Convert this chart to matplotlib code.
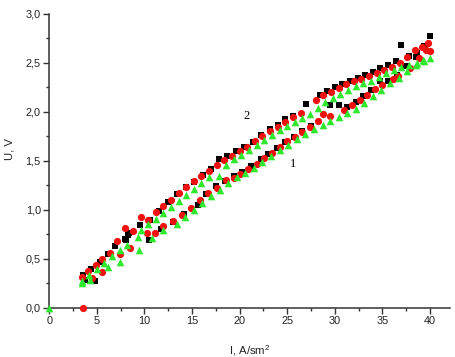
import numpy as np
import matplotlib
matplotlib.use("Agg")
import matplotlib.pyplot as plt
from matplotlib.ticker import MultipleLocator, FuncFormatter

plt.rcParams['font.family'] = ['Liberation Sans', 'DejaVu Sans']
plt.rcParams['mathtext.fontset'] = 'custom'
plt.rcParams['mathtext.rm'] = 'Liberation Sans'

# black squares: upper branch (2) then lower branch (1)
blk_up_i = [3.6, 4.4, 5.3, 6.2, 6.9, 8.0, 8.4, 9.5, 10.6, 11.5, 12.5, 13.4, 14.4, 15.2, 16.2, 17.0,
            17.8, 18.7, 19.6, 20.5, 21.4, 22.3, 23.2, 24.0, 24.8, 25.6, 27.0, 28.4, 29.2, 30.0, 30.8,
            31.6, 32.4, 33.2, 34.0, 34.8, 35.6, 36.4, 37.0, 37.8, 38.6, 39.4, 40.0]
blk_up_u = [0.33, 0.40, 0.47, 0.55, 0.63, 0.70, 0.76, 0.84, 0.90, 0.99, 1.08, 1.16, 1.23, 1.28, 1.36, 1.42,
            1.52, 1.55, 1.60, 1.64, 1.69, 1.76, 1.82, 1.87, 1.93, 1.96, 2.08, 2.17, 2.21, 2.25, 2.28,
            2.32, 2.35, 2.38, 2.41, 2.45, 2.48, 2.52, 2.68, 2.57, 2.60, 2.67, 2.77]
blk_lo_i = [3.8, 4.8, 8.1, 8.3, 10.5, 11.8, 13.0, 14.2, 15.6, 16.5, 17.5, 18.5, 19.4, 20.3, 21.2, 22.2,
            23.0, 23.9, 24.8, 25.7, 26.6, 27.5, 29.5, 30.4, 31.3, 32.2, 33.0, 33.8, 34.7, 35.6, 36.5,
            37.5, 38.5, 39.5]
blk_lo_u = [0.28, 0.27, 0.69, 0.74, 0.69, 0.80, 0.88, 0.96, 1.05, 1.16, 1.24, 1.29, 1.34, 1.39, 1.45, 1.52,
            1.57, 1.63, 1.69, 1.74, 1.80, 1.86, 2.07, 2.07, 2.05, 2.10, 2.16, 2.22, 2.32, 2.31, 2.38,
            2.47, 2.56, 2.66]

# red circles
red_up_i = [3.4, 4.1, 4.9, 5.6, 6.4, 7.1, 8.0, 8.8, 9.7, 10.4, 11.2, 12.0, 12.8, 13.6, 14.4, 15.2,
            16.0, 16.8, 17.6, 18.4, 19.2, 20.0, 20.8, 21.6, 22.4, 23.2, 24.0, 24.8, 25.6, 26.4, 28.0,
            28.8, 29.6, 30.4, 31.2, 32.0, 32.8, 33.6, 34.4, 35.2, 36.0, 36.8, 37.6, 38.4, 39.2, 39.8, 40.0]
red_up_u = [0.31, 0.37, 0.44, 0.50, 0.56, 0.68, 0.81, 0.78, 0.93, 0.90, 0.98, 1.04, 1.10, 1.17, 1.23, 1.29,
            1.35, 1.40, 1.46, 1.51, 1.55, 1.60, 1.64, 1.70, 1.75, 1.80, 1.85, 1.90, 1.95, 1.99, 2.12,
            2.17, 2.20, 2.24, 2.28, 2.31, 2.34, 2.37, 2.40, 2.43, 2.46, 2.50, 2.56, 2.63, 2.66, 2.70, 2.62]
red_lo_i = [3.6, 4.5, 5.6, 7.4, 8.5, 10.3, 11.1, 12.0, 13.0, 14.0, 14.9, 15.8, 16.7, 17.6, 18.6, 19.4,
            20.0, 20.9, 21.8, 22.6, 23.4, 24.2, 25.0, 25.8, 26.6, 27.4, 28.2, 28.8, 29.5, 31.0, 31.8,
            32.6, 33.4, 34.2, 35.0, 36.1, 36.6, 37.9, 38.8, 39.6]
red_lo_u = [0.00, 0.30, 0.36, 0.55, 0.61, 0.76, 0.76, 0.83, 0.89, 0.95, 1.02, 1.10, 1.17, 1.22, 1.30, 1.32,
            1.37, 1.42, 1.47, 1.53, 1.58, 1.64, 1.70, 1.74, 1.79, 1.85, 1.91, 1.98, 1.96, 2.02, 2.07,
            2.12, 2.17, 2.23, 2.27, 2.34, 2.37, 2.45, 2.55, 2.63]

# green triangles
grn_up_i = [3.5, 4.2, 5.0, 5.8, 6.6, 7.4, 8.2, 9.3, 9.6, 10.4, 11.2, 12.0, 12.8, 13.6, 14.4, 15.2,
            16.0, 16.8, 17.8, 18.6, 19.4, 20.2, 21.0, 21.8, 22.6, 23.4, 24.2, 25.0, 25.8, 26.6, 27.4,
            28.2, 29.0, 29.8, 30.6, 31.4, 32.2, 33.0, 33.8, 34.6, 35.4, 36.2, 37.0, 37.8, 38.6, 39.4, 40.0]
grn_up_u = [0.27, 0.33, 0.40, 0.46, 0.53, 0.59, 0.64, 0.72, 0.79, 0.85, 0.91, 0.97, 1.03, 1.09, 1.15, 1.21,
            1.27, 1.33, 1.34, 1.46, 1.52, 1.56, 1.61, 1.66, 1.71, 1.76, 1.81, 1.86, 1.90, 1.94, 1.98,
            2.04, 2.10, 2.14, 2.18, 2.22, 2.26, 2.29, 2.32, 2.36, 2.40, 2.43, 2.46, 2.48, 2.50, 2.52, 2.55]
grn_lo_i = [0.0, 3.5, 4.3, 6.2, 7.4, 9.4, 10.8, 12.0, 13.4, 14.3, 15.2, 16.1, 17.0, 17.9, 18.8, 19.7,
            20.6, 21.5, 22.4, 23.3, 24.2, 25.1, 26.0, 26.9, 27.8, 28.8, 29.5, 30.4, 31.3, 32.2, 33.1,
            34.0, 34.9, 35.8, 36.7, 37.6, 38.5, 39.3]
grn_lo_u = [0.00, 0.25, 0.28, 0.42, 0.47, 0.59, 0.71, 0.79, 0.86, 0.93, 1.00, 1.07, 1.14, 1.20, 1.27, 1.33,
            1.38, 1.43, 1.49, 1.55, 1.61, 1.66, 1.72, 1.77, 1.83, 1.87, 1.91, 1.95, 1.99, 2.03, 2.09,
            2.16, 2.22, 2.29, 2.35, 2.42, 2.48, 2.53]

fig = plt.figure(figsize=(4.55, 3.57), dpi=100)
ax = fig.add_axes([0.108, 0.138, 0.881, 0.823])

ax.scatter(blk_up_i + blk_lo_i, blk_up_u + blk_lo_u, marker='s', s=22, color='black',
           linewidths=0, clip_on=False, zorder=3)
ax.scatter(red_up_i + red_lo_i, red_up_u + red_lo_u, marker='o', s=27, color='#f01010',
           linewidths=0, clip_on=False, zorder=4)
ax.scatter(grn_up_i + grn_lo_i, grn_up_u + grn_lo_u, marker='^', s=30, color='#2ee82e',
           linewidths=0, clip_on=False, zorder=5)

ax.text(20.7, 1.96, '2', family='Liberation Serif', fontsize=9, ha='center', va='center')
ax.text(25.6, 1.47, '1', family='Liberation Serif', fontsize=9, ha='center', va='center')

ax.set_xlim(0, 42.1)
ax.set_ylim(0, 3.0)
for side in ['top', 'right']:
    ax.spines[side].set_visible(False)
for side in ['left', 'bottom']:
    ax.spines[side].set_color('#333333')
    ax.spines[side].set_linewidth(1.1)

ax.xaxis.set_major_locator(MultipleLocator(5))
ax.xaxis.set_minor_locator(MultipleLocator(2.5))
ax.yaxis.set_major_locator(MultipleLocator(0.5))
ax.yaxis.set_minor_locator(MultipleLocator(0.25))
ax.yaxis.set_major_formatter(FuncFormatter(lambda v, p: f'{v:.1f}'.replace('.', ',')))
ax.tick_params(which='major', direction='out', length=4, width=1, color='#333333',
               labelsize=7.8, labelcolor='#222222', pad=2)
ax.tick_params(which='minor', direction='out', length=2.5, width=1, color='#333333')

ax.set_xlabel('I, A/sm$^2$', fontsize=8.2, color='#222222')
ax.set_ylabel('U, V', fontsize=8.2, color='#222222')
ax.xaxis.set_label_coords(0.50, -0.12)
ax.yaxis.set_label_coords(-0.087, 0.54)

fig.savefig('out.png', dpi=100)
